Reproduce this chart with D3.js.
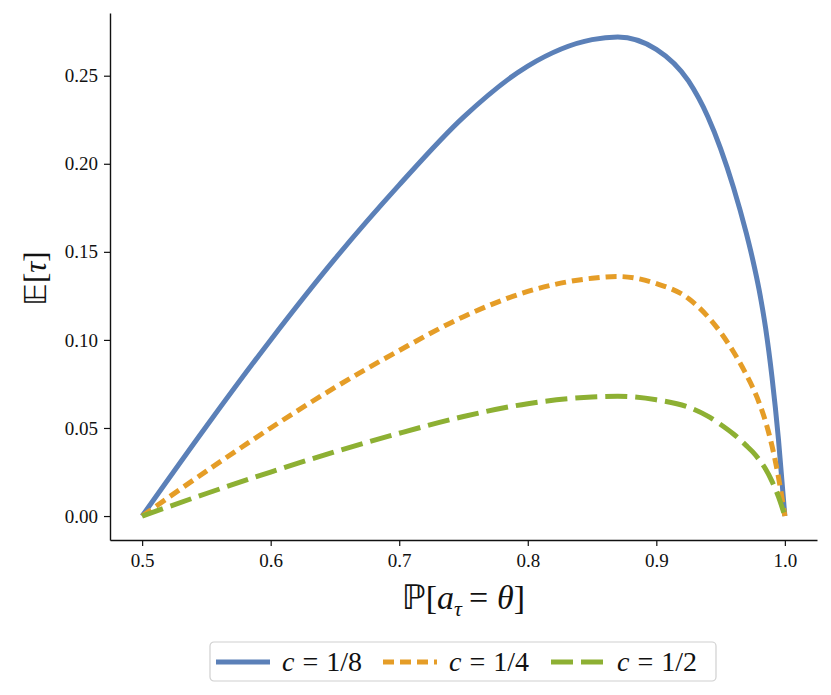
<!DOCTYPE html>
<html>
<head>
<meta charset="utf-8">
<script src="https://cdn.jsdelivr.net/npm/d3@7"></script>
<style>
  body { margin: 0; background: #fff; }
  svg text { font-family: "Liberation Serif", "DejaVu Serif", serif; fill: #111; }
</style>
</head>
<body>
<div id="chart"></div>
<script>
// probability that the action equals theta
const probs = [0.5, 0.55, 0.6, 0.65, 0.7, 0.75, 0.8, 0.85, 0.87, 0.9, 0.925, 0.94, 0.95, 0.96, 0.97, 0.975, 0.98, 0.985, 0.99, 0.995, 1.0]
const tauC8 = [0, 0.051, 0.100, 0.146, 0.188, 0.2265, 0.2555, 0.2705, 0.272, 0.265, 0.247, 0.2268, 0.2086, 0.1866, 0.1606, 0.1456, 0.1283, 0.1068, 0.0788, 0.0438, 0]
const tauC4 = [0, 0.0255, 0.050, 0.073, 0.094, 0.1132, 0.1275, 0.135, 0.136, 0.132, 0.1235, 0.1133, 0.1043, 0.0933, 0.0803, 0.073, 0.0643, 0.0536, 0.0398, 0.0222, 0]
const tauC2 = [0, 0.0128, 0.025, 0.0365, 0.047, 0.0565, 0.0638, 0.0676, 0.068, 0.066, 0.0618, 0.0567, 0.052, 0.0466, 0.040, 0.0364, 0.032, 0.0267, 0.0197, 0.011, 0]
const seriesNames = ['1/8', '1/4', '1/2']
const xTicks = [0.5, 0.6, 0.7, 0.8, 0.9, 1.0]
const yTicks = [0, 0.05, 0.10, 0.15, 0.20, 0.25]

const W = 831, H = 695
const MARGIN = {TOP: 13, LEFT: 110, RIGHT: 14, BOTTOM: 155}

const svg = d3.select('#chart').append('svg')
    .attr('width', W)
    .attr('height', H)

const x = d3.scaleLinear()
    .domain([0.475, 1.025])
    .range([MARGIN.LEFT, W - MARGIN.RIGHT])

const y = d3.scaleLinear()
    .domain([-0.0136, 0.2856])
    .range([H - MARGIN.BOTTOM, MARGIN.TOP])

const styles = [
    {color: '#5b80b8', dash: null},
    {color: '#e59d27', dash: '11,6'},
    {color: '#8db033', dash: '22,8'}
]
const allSeries = [tauC8, tauC4, tauC2]

// axes, only left and bottom spines
svg.append('g')
    .attr('transform', `translate(0, ${H - MARGIN.BOTTOM})`)
    .call(d3.axisBottom(x).tickValues(xTicks).tickFormat(d3.format('.1f')).tickSize(6).tickPadding(8).tickSizeOuter(0))
svg.append('g')
    .attr('transform', `translate(${MARGIN.LEFT}, 0)`)
    .call(d3.axisLeft(y).tickValues(yTicks).tickFormat(d3.format('.2f')).tickSize(6).tickPadding(6).tickSizeOuter(0))

svg.selectAll('.domain').attr('stroke', '#111').attr('stroke-width', 1.4)
svg.selectAll('.tick line').attr('stroke', '#111').attr('stroke-width', 1.2)
svg.selectAll('.tick text').attr('font-size', 19).attr('fill', '#111')

const line = d3.line()
    .x((d, i) => x(probs[i]))
    .y(d => y(d))
    .curve(d3.curveMonotoneX)

svg.selectAll('path.series')
    .data(allSeries)
    .enter().append('path')
    .attr('class', 'series')
    .attr('d', line)
    .attr('fill', 'none')
    .attr('stroke', (d, i) => styles[i].color)
    .attr('stroke-width', 5)
    .attr('stroke-dasharray', (d, i) => styles[i].dash)

// axis labels
svg.append('text')
    .attr('transform', `translate(46, ${(MARGIN.TOP + H - MARGIN.BOTTOM) / 2 + 2}) rotate(-90)`)
    .attr('text-anchor', 'middle')
    .attr('font-size', 31)
    .html('<tspan font-family="DejaVu Sans">𝔼</tspan>[<tspan font-style="italic">τ</tspan>]')

const xl = svg.append('text')
    .attr('x', (MARGIN.LEFT + W - MARGIN.RIGHT) / 2)
    .attr('y', 609)
    .attr('text-anchor', 'middle')
    .attr('font-size', 34)
xl.append('tspan').attr('font-family', 'DejaVu Sans').text('ℙ')
xl.append('tspan').text('[')
xl.append('tspan').attr('font-style', 'italic').text('a')
xl.append('tspan').attr('font-style', 'italic').attr('font-size', 22).attr('dy', 7).text('τ')
xl.append('tspan').attr('dy', -7).attr('dx', 7).text('=')
xl.append('tspan').attr('font-style', 'italic').attr('dx', 9).text('θ')
xl.append('tspan').text(']')

// legend
const legend = svg.append('g').attr('transform', 'translate(210, 642)')
legend.append('rect')
    .attr('width', 506)
    .attr('height', 39)
    .attr('rx', 4)
    .attr('fill', '#fff')
    .attr('stroke', '#d0d0d0')
    .attr('stroke-width', 1.2)

const offsets = [0, 167, 335]
seriesNames.forEach((name, i) => {
    const g = legend.append('g').attr('transform', `translate(${offsets[i] + 6}, 20)`)
    g.append('line')
        .attr('x1', 0).attr('x2', 54)
        .attr('stroke', styles[i].color)
        .attr('stroke-width', 5)
        .attr('stroke-dasharray', styles[i].dash)
    const t = g.append('text')
        .attr('x', 66)
        .attr('y', 9)
        .attr('font-size', 28)
    t.append('tspan').attr('font-style', 'italic').text('c')
    t.append('tspan').attr('dx', 8).text('=')
    t.append('tspan').attr('dx', 8).text(name)
})
</script>
</body>
</html>
